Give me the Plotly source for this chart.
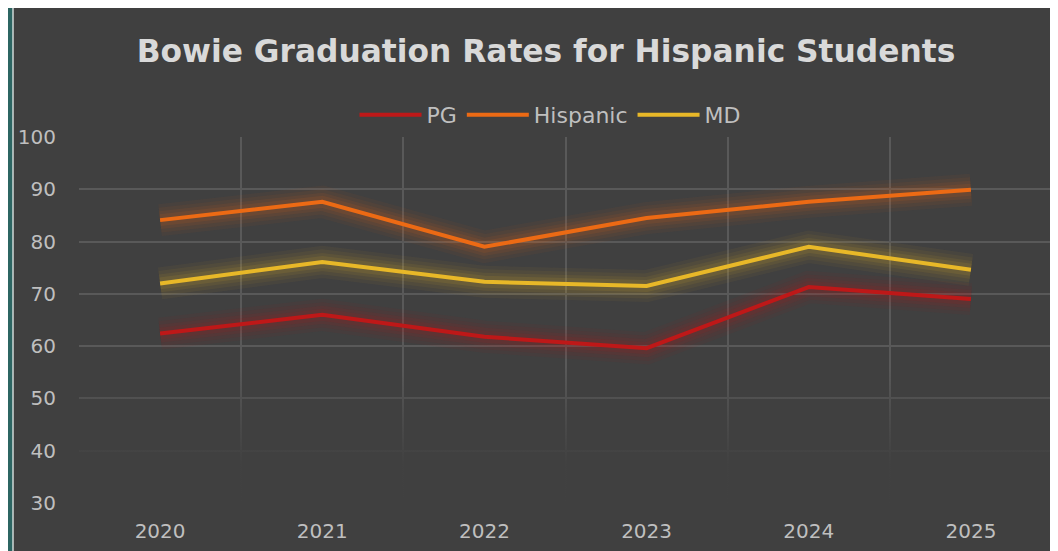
import plotly.graph_objects as go

years = ["2020", "2021", "2022", "2023", "2024", "2025"]
pg = [62.4, 66.0, 61.8, 59.6, 71.3, 69.0]
hispanic = [84.1, 87.6, 79.0, 84.5, 87.6, 89.9]
md = [72.0, 76.1, 72.3, 71.5, 79.0, 74.6]

series = [("PG", pg, "#BE1818", "rgba(190,24,24,"),
          ("Hispanic", hispanic, "#EC6A14", "rgba(236,106,20,"),
          ("MD", md, "#E8B828", "rgba(232,184,40,")]

OFF = 8  # page offset of the figure inside the browser window
W, H = 1058 - OFF, 551 - OFF
ML, MR, MT, MB = 79 - OFF, 6, 137 - OFF, 48
PH = H - MT - MB
PW = W - ML - MR

fig = go.Figure()

# glow layers
for name, vals, col, rgba in series:
    for w, a in [(32, 0.05), (25, 0.06), (18, 0.08), (12, 0.10)]:
        fig.add_trace(go.Scatter(x=years, y=vals, mode="lines",
                                 line=dict(color=rgba + f"{a})", width=w),
                                 showlegend=False, hoverinfo="skip"))
for name, vals, col, rgba in series:
    fig.add_trace(go.Scatter(x=years, y=vals, mode="lines", name=name,
                             line=dict(color=col, width=4)))

# fade-out overlay at the bottom of the plot area
fig.add_trace(go.Scatter(x=[0, 1, 1, 0, 0], y=[29.5, 29.5, 56, 56, 29.5],
                         xaxis="x2", mode="lines", line=dict(width=0),
                         fill="toself",
                         fillgradient=dict(type="vertical",
                                           colorscale=[[0, "rgba(64,64,64,1)"],
                                                       [0.3, "rgba(64,64,64,0.97)"],
                                                       [0.6, "rgba(64,64,64,0.6)"],
                                                       [1, "rgba(64,64,64,0)"]]),
                         showlegend=False, hoverinfo="skip"))

FONT = "DejaVu Sans"
fig.update_layout(
    width=W, height=H,
    margin=dict(l=ML, r=MR, t=MT, b=MB, autoexpand=False),
    paper_bgcolor="#2C6562",
    plot_bgcolor="rgba(0,0,0,0)",
    font=dict(family=FONT, color="#BFBFBF"),
    title=dict(text="<b>Bowie Graduation Rates for Hispanic Students</b>",
               x=(546 - OFF) / W, xanchor="center", y=1 - (51 - OFF) / H,
               yanchor="middle",
               font=dict(size=31.3, color="#D9D9D9", family=FONT)),
    legend=dict(orientation="h", x=(550 - OFF) / W, xref="container",
                xanchor="center", y=1 + 22 / PH, yanchor="middle",
                font=dict(size=22, color="#BFBFBF"), bgcolor="rgba(0,0,0,0)",
                itemwidth=62, traceorder="normal"),
    xaxis=dict(type="category", range=[-0.5, 5.5], tickson="boundaries",
               showgrid=True, gridcolor="#595959", gridwidth=1.5,
               showline=False, zeroline=False, ticks="",
               tickfont=dict(size=20, color="#BFBFBF"), ticklabelstandoff=14),
    xaxis2=dict(overlaying="x", range=[0, 1], visible=False),
    yaxis=dict(range=[30, 100], dtick=10, showgrid=True, gridcolor="#595959",
               gridwidth=1.5, zeroline=False, showline=False, ticks="",
               tickfont=dict(size=20, color="#BFBFBF"), ticklabelstandoff=22),
    shapes=[
        dict(type="rect", xref="paper", yref="paper", layer="below",
             x0=(13 - 79) / PW, x1=1 + 20 / PW,
             y0=-100 / PH, y1=(H - MB - (5 - OFF)) / PH,
             fillcolor="#404040", line=dict(color="#D0D8D6", width=1.5)),
    ],
)

fig.write_html("out.html")
